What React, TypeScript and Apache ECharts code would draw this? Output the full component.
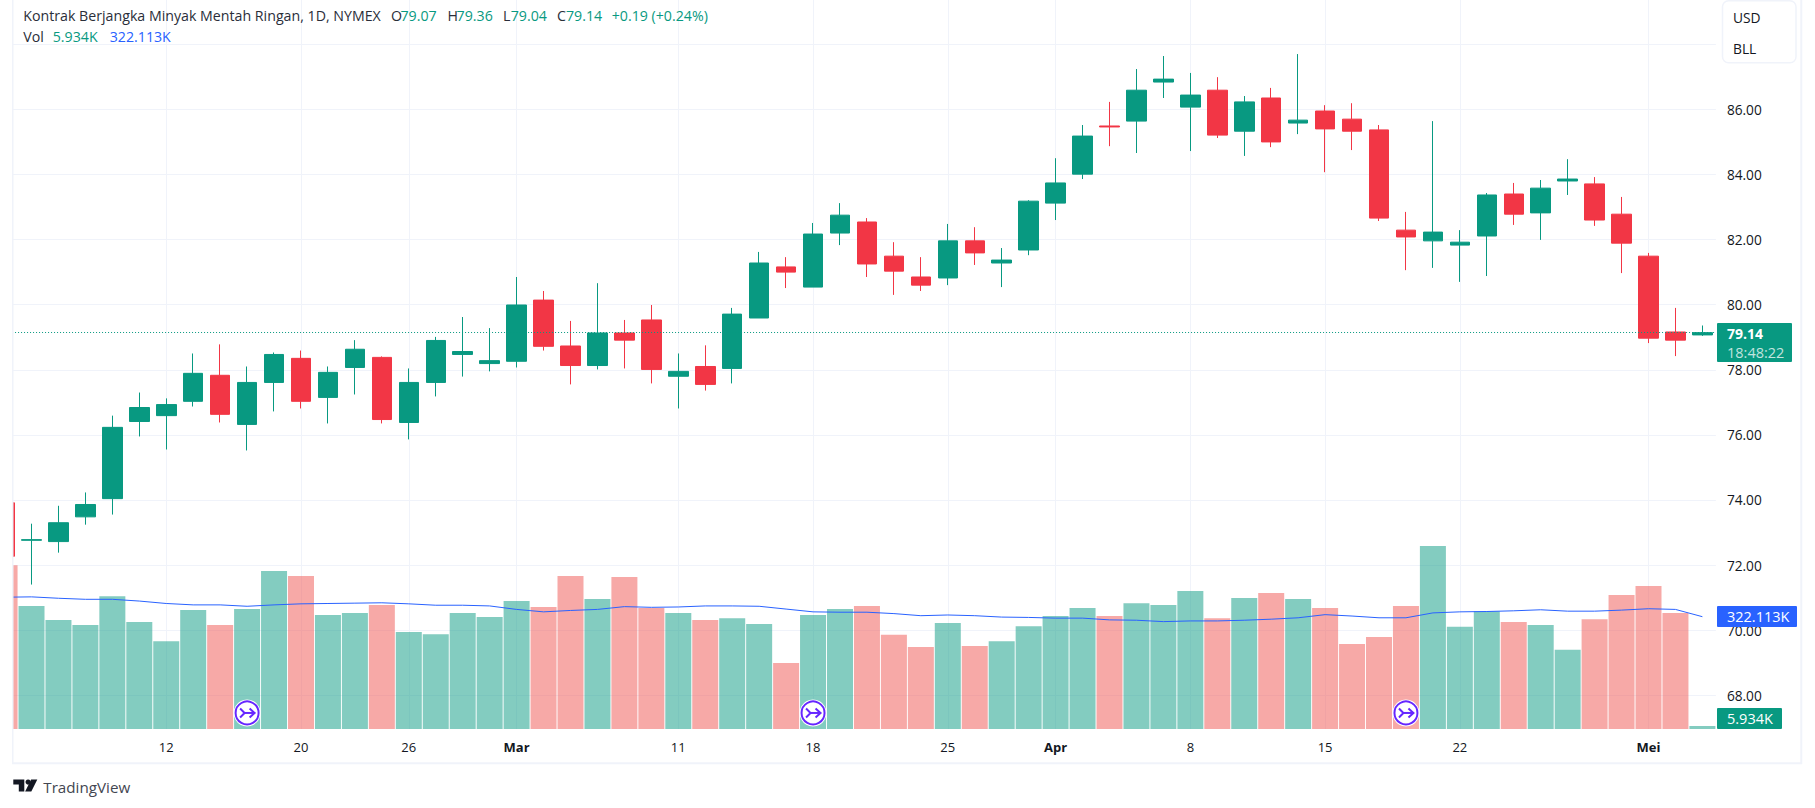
import React, { useEffect, useRef } from "react";
import * as echarts from "echarts";

const categories = [
  "2024-02-02", "2024-02-05", "2024-02-06", "2024-02-07", "2024-02-08", "2024-02-09",
  "2024-02-12", "2024-02-13", "2024-02-14", "2024-02-15", "2024-02-16", "2024-02-20",
  "2024-02-21", "2024-02-22", "2024-02-23", "2024-02-26", "2024-02-27", "2024-02-28",
  "2024-02-29", "2024-03-01", "2024-03-04", "2024-03-05", "2024-03-06", "2024-03-07",
  "2024-03-08", "2024-03-11", "2024-03-12", "2024-03-13", "2024-03-14", "2024-03-15",
  "2024-03-18", "2024-03-19", "2024-03-20", "2024-03-21", "2024-03-22", "2024-03-25",
  "2024-03-26", "2024-03-27", "2024-03-28", "2024-04-01", "2024-04-02", "2024-04-03",
  "2024-04-04", "2024-04-05", "2024-04-08", "2024-04-09", "2024-04-10", "2024-04-11",
  "2024-04-12", "2024-04-15", "2024-04-16", "2024-04-17", "2024-04-18", "2024-04-19",
  "2024-04-22", "2024-04-23", "2024-04-24", "2024-04-25", "2024-04-26", "2024-04-29",
  "2024-04-30", "2024-05-01", "2024-05-02", "2024-05-03",
];

const opens = [
  73.91, 72.76, 72.72, 73.48, 74.04, 76.41, 76.59, 77.03, 77.83, 76.32, 77.61, 78.35, 77.15, 78.07, 78.38, 76.38,
  77.61, 78.47, 78.19, 78.26, 80.14, 78.73, 78.13, 79.13, 79.53, 77.80, 78.10, 78.04, 79.59, 81.16, 80.54, 82.20,
  82.54, 81.49, 80.85, 80.82, 81.96, 81.28, 81.68, 83.12, 84.01, 85.49, 85.64, 86.84, 86.07, 86.59, 85.33, 86.35,
  85.58, 85.95, 85.70, 85.37, 82.29, 81.96, 81.83, 82.11, 83.40, 82.82, 83.80, 83.71, 82.78, 81.49, 79.16, 79.07,
];
const closes = [
  72.27, 72.78, 73.30, 73.86, 76.23, 76.84, 76.93, 77.89, 76.63, 77.61, 78.47, 77.03, 77.92, 78.63, 76.47, 77.61,
  78.90, 78.56, 78.28, 79.99, 78.72, 78.13, 79.13, 78.91, 78.01, 77.95, 77.55, 79.71, 81.28, 81.00, 82.17, 82.75,
  81.25, 81.03, 80.60, 81.96, 81.59, 81.37, 83.18, 83.74, 85.18, 85.46, 86.59, 86.93, 86.44, 85.21, 86.23, 85.00,
  85.67, 85.40, 85.33, 82.66, 82.08, 82.23, 81.92, 83.37, 82.78, 83.58, 83.86, 82.60, 81.89, 78.97, 78.91, 79.14,
];
const lows = [
  72.27, 71.40, 72.38, 73.24, 73.55, 75.95, 75.55, 76.87, 76.38, 75.52, 76.72, 76.81, 76.35, 77.24, 76.35, 75.86,
  77.18, 77.79, 77.95, 78.07, 78.59, 77.55, 78.01, 78.04, 77.58, 76.81, 77.36, 77.58, 79.59, 80.51, 80.54, 81.83,
  80.85, 80.30, 80.42, 80.60, 81.22, 80.54, 81.52, 82.60, 83.86, 84.87, 84.66, 86.35, 84.72, 85.12, 84.57, 84.84,
  85.24, 84.07, 84.75, 82.57, 81.06, 81.13, 80.70, 80.88, 82.45, 81.99, 83.37, 82.42, 80.97, 78.82, 78.42, 79.04,
];
const highs = [
  73.91, 73.27, 73.82, 74.23, 76.59, 77.30, 77.12, 78.50, 78.78, 78.10, 78.53, 78.59, 78.10, 78.91, 78.41, 78.04,
  79.01, 79.62, 79.28, 80.85, 80.42, 79.50, 80.66, 79.53, 79.99, 78.50, 78.75, 79.90, 81.62, 81.46, 82.51, 83.12,
  82.66, 81.92, 81.46, 82.48, 82.38, 81.74, 83.21, 84.50, 85.52, 86.23, 87.24, 87.64, 87.12, 86.99, 86.41, 86.66,
  87.70, 86.13, 86.19, 85.52, 82.85, 85.64, 82.29, 83.43, 83.74, 83.83, 84.47, 83.92, 83.31, 81.59, 79.90, 79.36,
];

// Volume, thousands of contracts
const volumes = [
  470, 353, 313, 298, 381, 307, 252, 341, 298, 344, 453, 439, 327, 333, 356, 278,
  272, 333, 321, 367, 350, 439, 373, 436, 347, 333, 313, 318, 301, 189, 327, 344,
  353, 270, 235, 304, 238, 252, 295, 324, 347, 324, 361, 356, 396, 318, 376, 390,
  373, 347, 244, 264, 353, 525, 293, 338, 307, 298, 227, 315, 384, 410, 333, 5.934,
];
const volumeAverage = [
  378, 379, 375, 372, 372, 367, 360, 356, 356, 352, 356, 359, 360, 361, 362, 359,
  355, 355, 353, 343, 336, 340, 343, 351, 349, 350, 353, 353, 352, 344, 336, 335,
  335, 331, 325, 327, 325, 321, 320, 318, 318, 313, 312, 308, 310, 310, 312, 315,
  319, 328, 324, 319, 319, 333, 336, 337, 339, 342, 338, 338, 341, 345, 343, 322.113,
];

const tickLabels: Record<string, string> = {
  "2024-02-12": "12", "2024-02-20": "20", "2024-02-26": "26", "2024-03-01": "Mar",
  "2024-03-11": "11", "2024-03-18": "18", "2024-03-25": "25", "2024-04-01": "Apr",
  "2024-04-08": "8", "2024-04-15": "15", "2024-04-22": "22", "2024-05-01": "Mei",
};
const monthLabels = ["Mar", "Apr", "Mei"];
const eventDates = ["2024-02-15", "2024-03-18", "2024-04-18"];
const eventLevel = 46;
const lastPrice = 79.14;

const FONT = '"Open Sans", sans-serif';
const INK = "#131722";
const LEGEND_INK = "#2a2e39";
const UP = "#089981";
const DOWN = "#F23645";
const BLUE = "#2962FF";
const GRID = "#f0f3fa";

// The first bar is cut off by the pane's left edge, so the canvas begins left of the page.
const OFFSET = 9;
const BAND = 26.95;
const GRID_LEFT = 4.55 - BAND / 2 + OFFSET;
const GRID_WIDTH = BAND * categories.length;

const legendText = (x: number, y: number, text: string, fill: string) => ({
  type: "text" as const,
  x,
  y,
  z: 120,
  style: { text, fill, font: `14.2px ${FONT}`, textVerticalAlign: "middle" },
});

const tag = (x: number, y: number, w: number, h: number, fill: string) => ({
  type: "rect" as const,
  x: 0,
  z: 110,
  shape: { x, y, width: w, height: h, r: 1 },
  style: { fill },
});

const pageElements: any[] = [
  // Left margin mask and frame
  { type: "rect", z: 100, shape: { x: -OFFSET, y: 0, width: OFFSET + 12, height: 808 }, style: { fill: "#ffffff" } },
  { type: "rect", z: 100, shape: { x: 1802.5, y: 0, width: 13, height: 808 }, style: { fill: "#ffffff" } },
  { type: "line", z: 101, shape: { x1: 12.75, y1: 0, x2: 12.75, y2: 764 }, style: { stroke: GRID, lineWidth: 1.5 } },
  { type: "line", z: 101, shape: { x1: 12, y1: 763.3, x2: 1802, y2: 763.3 }, style: { stroke: GRID, lineWidth: 2 } },
  { type: "line", z: 101, shape: { x1: 1801.3, y1: 0, x2: 1801.3, y2: 764 }, style: { stroke: GRID, lineWidth: 2 } },

  // Legend
  legendText(23.3, 15.8, "Kontrak Berjangka Minyak Mentah Ringan, 1D, NYMEX", LEGEND_INK),
  legendText(391, 15.8, "O", LEGEND_INK),
  legendText(400.5, 15.8, "79.07", UP),
  legendText(447.5, 15.8, "H", LEGEND_INK),
  legendText(456.6, 15.8, "79.36", UP),
  legendText(503, 15.8, "L", LEGEND_INK),
  legendText(510.7, 15.8, "79.04", UP),
  legendText(557, 15.8, "C", LEGEND_INK),
  legendText(566, 15.8, "79.14", UP),
  legendText(611.7, 15.8, "+0.19 (+0.24%)", UP),
  legendText(23.3, 36.8, "Vol", LEGEND_INK),
  legendText(52.7, 36.8, "5.934K", UP),
  legendText(109.7, 36.8, "322.113K", BLUE),

  // Units box
  {
    type: "rect",
    z: 105,
    shape: { x: 1722.5, y: 0.8, width: 73.5, height: 62, r: 6 },
    style: { fill: "#ffffff", stroke: GRID, lineWidth: 1.5 },
  },
  { type: "text", z: 106, x: 1733, y: 17, style: { text: "USD", fill: INK, font: `13.8px ${FONT}`, textVerticalAlign: "middle" } },
  { type: "text", z: 106, x: 1733, y: 48, style: { text: "BLL", fill: INK, font: `13.8px ${FONT}`, textVerticalAlign: "middle" } },

  // Price tag
  tag(1717, 323, 75, 39, UP),
  { type: "text", z: 111, x: 1727, y: 333.5, style: { text: "79.14", fill: "#ffffff", font: `bold 14px ${FONT}`, textVerticalAlign: "middle" } },
  { type: "text", z: 111, x: 1727, y: 352, style: { text: "18:48:22", fill: "rgba(255,255,255,0.75)", font: `14.5px ${FONT}`, textVerticalAlign: "middle" } },

  // Volume average tag
  tag(1717, 606, 80, 21, BLUE),
  { type: "text", z: 111, x: 1727, y: 616.5, style: { text: "322.113K", fill: "#ffffff", font: `14.5px ${FONT}`, textVerticalAlign: "middle" } },

  // Volume tag
  tag(1717, 708, 65, 21, UP),
  { type: "text", z: 111, x: 1727, y: 718.5, style: { text: "5.934K", fill: "#ffffff", font: `14.5px ${FONT}`, textVerticalAlign: "middle" } },

  // TradingView mark
  {
    type: "group",
    x: 13.3,
    y: 779.5,
    z: 120,
    children: [
      { type: "polygon", z: 120, shape: { points: [[0, 0], [11, 0], [11, 12], [5.5, 12], [5.5, 5], [0, 5]] }, style: { fill: INK } },
      { type: "circle", z: 120, shape: { cx: 14.8, cy: 2.6, r: 2.6 }, style: { fill: INK } },
      { type: "polygon", z: 120, shape: { points: [[24, 0], [18, 12], [11.8, 12], [17.8, 0]] }, style: { fill: INK } },
    ],
  },
  { type: "text", z: 120, x: 43.3, y: 786.5, style: { text: "TradingView", fill: "#434651", font: `15.2px ${FONT}`, textVerticalAlign: "middle" } },
];

const buildOption = () => ({
  animation: false,
  backgroundColor: "#ffffff",
  textStyle: { fontFamily: FONT },
  grid: [
    { left: GRID_LEFT, width: GRID_WIDTH, top: 44.3, height: 650.9 },
    { left: GRID_LEFT, width: GRID_WIDTH, top: 0, height: 729 },
  ],
  xAxis: [
    { type: "category", gridIndex: 0, data: categories, show: false },
    {
      type: "category",
      gridIndex: 1,
      data: categories,
      axisLine: { show: false },
      axisTick: { show: false },
      splitLine: {
        show: true,
        alignWithLabel: true,
        interval: (_: number, v: string) => v in tickLabels,
        lineStyle: { color: GRID, width: 1 },
      },
      axisLabel: {
        interval: (_: number, v: string) => v in tickLabels,
        margin: 11,
        color: INK,
        fontFamily: FONT,
        fontSize: 13,
        formatter: (v: string) => {
          const t = tickLabels[v] ?? "";
          return monthLabels.includes(t) ? `{m|${t}}` : t;
        },
        rich: { m: { fontWeight: "bold", fontSize: 13, fontFamily: FONT, color: INK } },
      },
    },
  ],
  yAxis: [
    {
      type: "value",
      gridIndex: 0,
      position: "right",
      min: 68,
      max: 88,
      interval: 2,
      axisLine: { show: false },
      axisTick: { show: false },
      splitLine: { show: true, lineStyle: { color: GRID, width: 1 } },
      axisLabel: {
        margin: 11,
        color: INK,
        fontFamily: FONT,
        fontSize: 13.7,
        formatter: (v: number) => (v >= 88 ? "" : v.toFixed(2)),
      },
    },
    { type: "value", gridIndex: 1, min: 0, max: 2091, show: false },
  ],
  series: [
    {
      name: "Vol",
      type: "bar",
      xAxisIndex: 1,
      yAxisIndex: 1,
      barWidth: 26,
      barMinHeight: 3,
      z: 2,
      data: volumes.map((v, i) => ({
        value: v,
        itemStyle: { color: closes[i] >= opens[i] ? "rgba(8,153,129,0.5)" : "rgba(239,83,80,0.5)" },
      })),
    },
    {
      name: "Vol MA",
      type: "line",
      xAxisIndex: 1,
      yAxisIndex: 1,
      data: volumeAverage,
      showSymbol: false,
      lineStyle: { color: BLUE, width: 1 },
      z: 3,
    },
    {
      name: "Kontrak Berjangka Minyak Mentah Ringan",
      type: "candlestick",
      xAxisIndex: 0,
      yAxisIndex: 0,
      barWidth: 20,
      z: 4,
      data: opens.map((o, i) => [o, closes[i], lows[i], highs[i]]),
      itemStyle: {
        color: UP,
        color0: DOWN,
        borderColor: UP,
        borderColor0: DOWN,
        borderWidth: 1,
      },
      markLine: {
        silent: true,
        symbol: "none",
        label: { show: false },
        lineStyle: { color: UP, type: [1, 2], width: 1 },
        data: [{ yAxis: lastPrice }],
      },
    },
    {
      name: "Events",
      type: "custom",
      xAxisIndex: 1,
      yAxisIndex: 1,
      z: 6,
      data: eventDates.map((d) => [d, eventLevel]),
      renderItem: (_: unknown, api: any) => {
        const [cx, cy] = api.coord([api.value(0), api.value(1)]);
        const stroke = { stroke: "#6626ff", lineWidth: 2, fill: "none" };
        return {
          type: "group",
          x: cx,
          y: cy,
          children: [
            { type: "circle", shape: { cx: 0, cy: 0, r: 13.5 }, style: { fill: "#ffffff" } },
            { type: "circle", shape: { cx: 0, cy: 0, r: 11.5 }, style: { fill: "#ffffff", stroke: "#6626ff", lineWidth: 2 } },
            { type: "polyline", shape: { points: [[-7, -4.5], [-2.5, 0], [-7, 4.5]] }, style: stroke },
            { type: "polyline", shape: { points: [[2.5, -4.5], [7.5, 0], [2.5, 4.5]] }, style: stroke },
            { type: "line", shape: { x1: -2.5, y1: 0, x2: 7.5, y2: 0 }, style: stroke },
          ],
        };
      },
    },
  ],
  graphic: pageElements.map((el) => ({ ...el, x: (el.x ?? 0) + OFFSET })),
});

export default function App() {
  const ref = useRef<HTMLDivElement>(null);
  useEffect(() => {
    if (!ref.current) return;
    const chart = echarts.init(ref.current, undefined, { renderer: "svg" });
    chart.setOption(buildOption() as any);
    return () => chart.dispose();
  }, []);
  return (
    <div
      ref={ref}
      style={{ position: "absolute", left: -OFFSET, top: 0, width: 1815 + OFFSET, height: 808, background: "#fff" }}
    />
  );
}
